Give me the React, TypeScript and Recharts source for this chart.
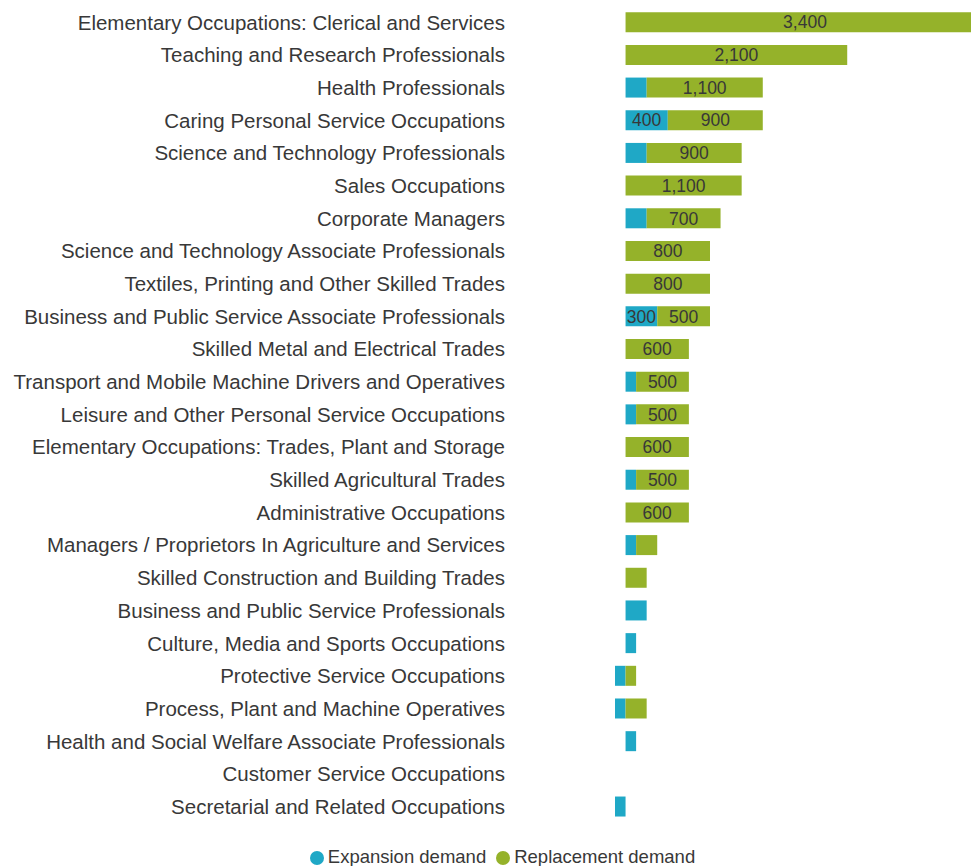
import { BarChart, Bar, XAxis, YAxis, Legend, LabelList } from 'recharts'

const CATEGORIES = [
  'Elementary Occupations: Clerical and Services',
  'Teaching and Research Professionals',
  'Health Professionals',
  'Caring Personal Service Occupations',
  'Science and Technology Professionals',
  'Sales Occupations',
  'Corporate Managers',
  'Science and Technology Associate Professionals',
  'Textiles, Printing and Other Skilled Trades',
  'Business and Public Service Associate Professionals',
  'Skilled Metal and Electrical Trades',
  'Transport and Mobile Machine Drivers and Operatives',
  'Leisure and Other Personal Service Occupations',
  'Elementary Occupations: Trades, Plant and Storage',
  'Skilled Agricultural Trades',
  'Administrative Occupations',
  'Managers / Proprietors In Agriculture and Services',
  'Skilled Construction and Building Trades',
  'Business and Public Service Professionals',
  'Culture, Media and Sports Occupations',
  'Protective Service Occupations',
  'Process, Plant and Machine Operatives',
  'Health and Social Welfare Associate Professionals',
  'Customer Service Occupations',
  'Secretarial and Related Occupations',
]

const EXPANSION = [0, 0, 200, 400, 200, 0, 200, 0, 0, 300, 0, 100, 100, 0, 100, 0, 100, 0, 200, 100, -100, -100, 100, 0, -100]
const REPLACEMENT = [3400, 2100, 1100, 900, 900, 1100, 700, 800, 800, 500, 600, 500, 500, 600, 500, 600, 200, 200, 0, 0, 100, 200, 0, 0, 0]

const TEAL = '#1fa8c6'
const GREEN = '#95b22a'
const TEXT = '#383838'
const FONT = 'Arial, "Liberation Sans", sans-serif'

const data = CATEGORIES.map((name, i) => ({
  name,
  expansion: EXPANSION[i],
  replacement: REPLACEMENT[i],
}))

const fmt = (v: any) => (typeof v === 'number' && v >= 300 ? v.toLocaleString('en-US') : '')

export default function App() {
  return (
    <div style={{ position: 'absolute', left: 0, top: 0, width: 971, height: 866, overflow: 'hidden', background: '#fff', fontFamily: FONT }}>
      <BarChart
        width={1000}
        height={866}
        data={data}
        layout="vertical"
        stackOffset="sign"
        barCategoryGap="19%"
        margin={{ top: 6, right: 5, bottom: 0, left: 0 }}
      >
        <XAxis type="number" hide domain={[-1000, 3500]} />
        <YAxis
          type="category"
          dataKey="name"
          width={520}
          axisLine={false}
          tickLine={false}
          tickMargin={9}
          interval={0}
          tick={{ fontSize: 20.5, fill: TEXT, fontFamily: FONT }}
        />
        <Legend
          verticalAlign="bottom"
          align="center"
          iconType="circle"
          iconSize={14}
          wrapperStyle={{ paddingTop: 21, fontSize: 18.5, fontFamily: FONT, left: 10, bottom: -2 }}
          formatter={(value: string) => <span style={{ color: TEXT }}>{value}</span>}
        />
        <Bar dataKey="expansion" name="Expansion demand" stackId="a" fill={TEAL} isAnimationActive={false}>
          <LabelList dataKey="expansion" position="center" formatter={fmt} fill={TEXT} fontSize={17.5} fontFamily={FONT} />
        </Bar>
        <Bar dataKey="replacement" name="Replacement demand" stackId="a" fill={GREEN} isAnimationActive={false}>
          <LabelList dataKey="replacement" position="center" formatter={fmt} fill={TEXT} fontSize={17.5} fontFamily={FONT} />
        </Bar>
      </BarChart>
    </div>
  )
}
